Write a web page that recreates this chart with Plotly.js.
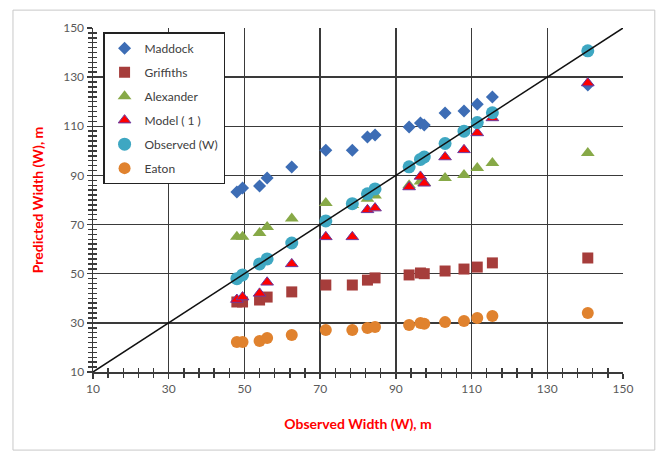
<!DOCTYPE html>
<html>
<head>
<meta charset="utf-8">
<script src="https://cdn.plot.ly/plotly-3.0.1.min.js"></script>
<style>html,body{margin:0;padding:0;background:#fff;}#chart{width:661px;height:453px;}</style>
</head>
<body>
<div id="chart"></div>
<script>
// Observed widths (x for every series)
const observed = [48, 49.5, 54, 56, 62.5, 71.5, 78.5, 82.5, 84.5, 93.5, 96.5, 97.5, 103, 108, 111.5, 115.5, 140.7];
// Predicted widths per method
const maddock   = [83.3, 84.9, 85.7, 89, 93.4, 100.2, 100.2, 105.6, 106.5, 109.7, 111.3, 110.5, 115.4, 116.2, 119, 121.9, 126.8];
const griffiths = [38.5, 38.5, 39.3, 40.5, 42.6, 45.4, 45.4, 47.4, 48.3, 49.5, 50.3, 50, 51.1, 51.9, 52.7, 54.4, 56.4];
const alexander = [65, 65, 66.6, 69, 72.5, 78.8, 78, 80.5, 81.8, 86, 87.5, 87, 89, 90.2, 93, 95.1, 99.1];
const model     = [39.5, 40.5, 42, 46.5, 54, 65, 65, 76, 76.7, 85.3, 89.6, 86.8, 97.5, 100.4, 107.3, 113.4, 127.6];
const eaton     = [22.2, 22.2, 22.6, 23.8, 25.1, 27.1, 27.1, 27.9, 28.3, 29.1, 29.9, 29.6, 30.3, 30.8, 32, 32.8, 34];
const lineOfEquality = [10, 150];
const ticksVals = [10, 30, 50, 70, 90, 110, 130, 150];

const series = [
  {name: 'Maddock', y: maddock, symbol: 'diamond', color: '#3d6db5', size: 10},
  {name: 'Griffiths', y: griffiths, symbol: 'square', color: '#a63d3b', size: 11},
  {name: 'Alexander', y: alexander, symbol: 'triangle-up', color: '#87a947', size: 12},
  {name: 'Model ( 1 )', y: model, symbol: 'triangle-up', color: '#ff0000', size: 11, line: {color: '#6a3aa0', width: 1}},
  {name: 'Observed (W)', y: observed, symbol: 'circle', color: '#3ea7c2', size: 13},
  {name: 'Eaton', y: eaton, symbol: 'circle', color: '#e0822e', size: 12}
];

const traces = series.map((s, i) => ({
  type: 'scatter', mode: 'markers', name: s.name, x: observed, y: s.y,
  legendgroup: 'g' + i,
  marker: {symbol: s.symbol, color: s.color, size: s.size, line: s.line || {width: 0}},
  hoverinfo: 'x+y'
}));
traces.push({
  type: 'scatter', mode: 'lines', x: lineOfEquality, y: lineOfEquality,
  line: {color: '#111', width: 1.5}, showlegend: false, hoverinfo: 'skip'
});
// overlay axis for inside ticks (cross ticks)
traces.push({type: 'scatter', mode: 'markers', x: [10], y: [10], xaxis: 'x2', yaxis: 'y2',
  marker: {opacity: 0}, showlegend: false, hoverinfo: 'skip'});

const tickFont = {family: 'Lato, "Open Sans", sans-serif', size: 12, color: '#595959'};
const titleFont = {family: 'Lato, "Open Sans", sans-serif', size: 14, color: '#ff0000', weight: 'bold'};

const baseAxis = {
  range: [10, 150], tick0: 10, dtick: 20, tickvals: ticksVals,
  showgrid: true, gridcolor: '#3a3a3a', gridwidth: 1.5,
  zeroline: false, showline: true, linecolor: '#3a3a3a', linewidth: 1.5,
  ticks: 'outside', ticklen: 5, tickwidth: 1.5, tickcolor: '#3a3a3a',
  tickfont: tickFont, fixedrange: true
};

const layout = {
  width: 661, height: 453,
  margin: {l: 93, r: 38, t: 28, b: 81},
  paper_bgcolor: '#ffffff', plot_bgcolor: '#ffffff',
  showlegend: true,
  xaxis: Object.assign({}, baseAxis, {
    title: {text: 'Observed Width (W), m', font: titleFont, standoff: 24},
    minor: {dtick: 4, tick0: 10, ticks: 'outside', ticklen: 4, tickwidth: 1.5, tickcolor: '#3a3a3a', showgrid: false},
    mirror: false
  }),
  yaxis: Object.assign({}, baseAxis, {
    title: {text: 'Predicted Width (W), m', font: titleFont, standoff: 16},
    minor: {dtick: 2, tick0: 10, ticks: 'outside', ticklen: 4, tickwidth: 1.5, tickcolor: '#3a3a3a', showgrid: false}
  }),
  xaxis2: {overlaying: 'x', range: [10, 150], tick0: 10, dtick: 20, tickvals: ticksVals, showgrid: false, zeroline: false,
    showline: false, showticklabels: false, ticks: 'inside', ticklen: 5, tickwidth: 1.5, tickcolor: '#3a3a3a',
    minor: {dtick: 4, tick0: 10, ticks: 'inside', ticklen: 4, tickwidth: 1.5, tickcolor: '#3a3a3a', showgrid: false}, fixedrange: true},
  yaxis2: {overlaying: 'y', range: [10, 150], tick0: 10, dtick: 20, tickvals: ticksVals, showgrid: false, zeroline: false,
    showline: false, showticklabels: false, ticks: 'inside', ticklen: 5, tickwidth: 1.5, tickcolor: '#3a3a3a',
    minor: {dtick: 2, tick0: 10, ticks: 'inside', ticklen: 4, tickwidth: 1.5, tickcolor: '#3a3a3a', showgrid: false}, fixedrange: true},
  legend: {
    x: 0.019, y: 0.988, xanchor: 'left', yanchor: 'top',
    bgcolor: '#ffffff', bordercolor: '#222', borderwidth: 1.5,
    font: {family: 'Lato, "Open Sans", sans-serif', size: 12, color: '#404040'},
    traceorder: 'grouped', tracegroupgap: 5, itemwidth: 30
  },
  shapes: [
    {type: 'rect', xref: 'paper', yref: 'paper', x0: -0.151, x1: 1.060, y0: -0.227, y1: 1.052,
     line: {color: '#c8c8c8', width: 1}, fillcolor: 'rgba(0,0,0,0)', layer: 'below'}
  ]
};

Plotly.newPlot('chart', traces, layout, {displayModeBar: false, staticPlot: true});
</script>
</body>
</html>
